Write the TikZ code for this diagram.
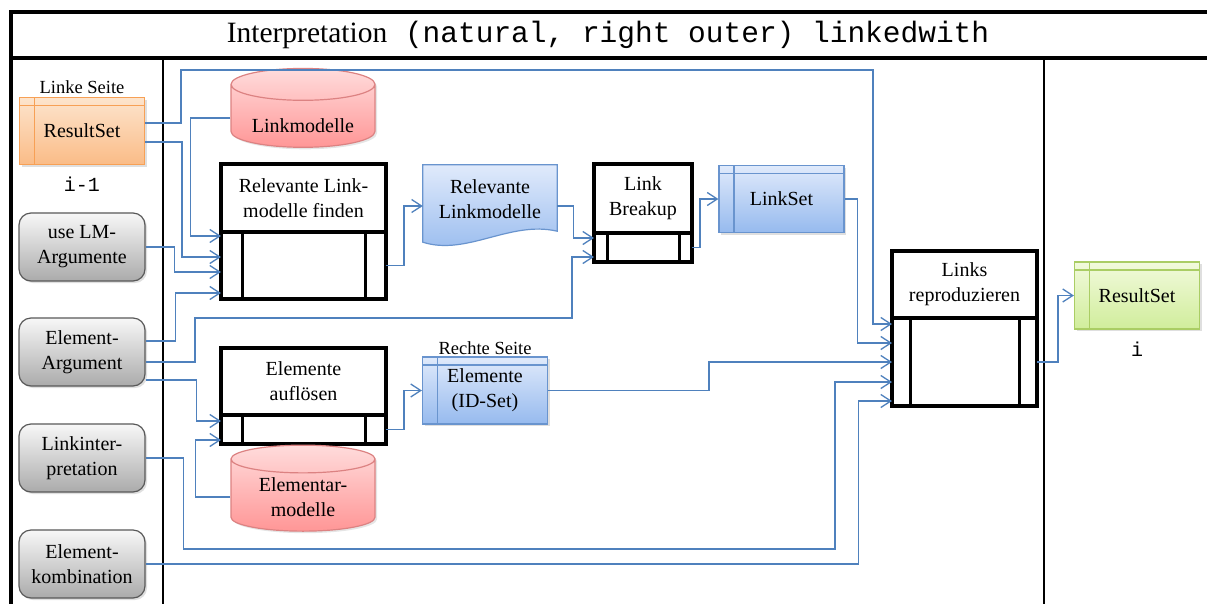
\documentclass[tikz,border=0pt]{standalone}
\usepackage{fontspec}
\setmainfont{Liberation Serif}
\setmonofont{Liberation Mono}
\usetikzlibrary{positioning,arrows.meta,shapes.geometric,shadows,backgrounds}

\definecolor{linkblue}{RGB}{79,129,189}
\definecolor{setblue}{RGB}{105,148,206}
\definecolor{bluetop}{RGB}{224,234,251}
\definecolor{bluebot}{RGB}{150,186,238}
\definecolor{orangeline}{RGB}{247,160,85}
\definecolor{orangetop}{RGB}{253,228,205}
\definecolor{orangebot}{RGB}{250,188,135}
\definecolor{greenline}{RGB}{170,205,100}
\definecolor{greentop}{RGB}{242,250,220}
\definecolor{greenbot}{RGB}{208,237,155}
\definecolor{redline}{RGB}{220,130,130}
\definecolor{redtop}{RGB}{255,220,220}
\definecolor{redbot}{RGB}{255,150,150}

\begin{document}
\begin{tikzpicture}[
  x=1pt, y=-1pt,
  font=\fontsize{20}{25}\selectfont,
  conn/.style={-{Straight Barb[length=10pt,width=13pt]}, line width=1.3pt, linkblue},
  frame/.style={line width=3.5pt, black},
  setbox/.style n args={3}{draw=#1, top color=#2, bottom color=#3, line width=1.2pt,
    minimum width=125pt, minimum height=67pt, align=center, inner sep=2pt,
    drop shadow={shadow xshift=2pt, shadow yshift=-2pt, opacity=0.25},
    path picture={
      \draw[#1, line width=1.2pt] ([xshift=15pt]path picture bounding box.north west)
        -- ([xshift=15pt]path picture bounding box.south west);
      \draw[#1, line width=1.2pt] ([yshift=-8pt]path picture bounding box.north west)
        -- ([yshift=-8pt]path picture bounding box.north east);}},
  blueset/.style={setbox={setblue}{bluetop}{bluebot}},
  argbox/.style={draw=black!65, rounded corners=12pt, top color=black!3,
    bottom color=black!33, line width=1.2pt, minimum width=126pt,
    minimum height=68pt, align=center, inner sep=2pt,
    drop shadow={shadow xshift=2pt, shadow yshift=-2pt, opacity=0.25}},
  dbase/.style={cylinder, shape border rotate=90, aspect=0.3, draw=redline,
    top color=redtop, bottom color=redbot, line width=1.2pt,
    minimum width=144pt, align=center, inner sep=2pt,
    execute at begin node={\rule{0pt}{30pt}},
    drop shadow={shadow xshift=2pt, shadow yshift=-2pt, opacity=0.2}},
  prochead/.style={draw, line width=3.5pt, outer sep=0pt, fill=white,
    align=center, inner sep=2pt},
  procbody/.style={draw, line width=3.5pt, outer sep=0pt, fill=white,
    path picture={
      \draw[line width=3pt] ([xshift=#1]path picture bounding box.north west)
        -- ([xshift=#1]path picture bounding box.south west);
      \draw[line width=3pt] ([xshift=-#1]path picture bounding box.north east)
        -- ([xshift=-#1]path picture bounding box.south east);}},
  docnode/.style={minimum width=134pt, minimum height=68pt, align=center, inner sep=2pt},
  lbl/.style={font=\fontsize{18.5}{22}\selectfont, inner sep=0pt},
  idx/.style={font=\ttfamily\fontsize{20}{24}\selectfont, inner sep=0pt},
]
\useasboundingbox (0,0) rectangle (1207,603);
\clip (0,0) rectangle (1207,603);

% frame with title row and three columns
\draw[frame] (11,12) rectangle (1240,640);
\draw[frame] (11,58) -- (1240,58);
\draw[line width=2.5pt] (163,58) -- (163,640);
\draw[line width=2.5pt] (1044,58) -- (1044,640);
\node[font=\fontsize{29.5}{34}\selectfont] (title) at (608,35)
  {Interpretation\texttt{ (natural, right outer) linkedwith}};

% inputs (left column)
\node[setbox={orangeline}{orangetop}{orangebot}] (rsL) at (82,131) {ResultSet};
\node[lbl, above=3pt of rsL] (lsL) {Linke Seite};
\node[idx, below=12pt of rsL] (iL) {i-1};
\node[argbox] (lm) at (82,247) {use LM-\\Argumente};
\node[argbox] (ea) at (82,352) {Element-\\Argument};
\node[argbox] (li) at (82,458) {Linkinter-\\pretation};
\node[argbox] (ek) at (82,564) {Element-\\kombination};

% models and processing steps
\node[dbase, minimum height=77pt] (lmod) at (303,118) {Linkmodelle};
\node[prochead, minimum width=165pt, minimum height=68pt] (find) at (303.5,198)
  {Relevante Link-\\modelle finden};
\node[procbody=21pt, minimum width=165pt, minimum height=67pt, below=0pt of find] (findb) {};
\node[docnode] (rlm) at (490,199) {Relevante\\Linkmodelle};
\node[prochead, minimum width=98pt, minimum height=69pt] (brk) at (643,198.5) {Link\\Breakup};
\node[procbody=13pt, minimum width=98pt, minimum height=29pt, below=0pt of brk] (brkb) {};
\node[blueset] (ls) at (781.5,199) {LinkSet};
\node[prochead, minimum width=165pt, minimum height=67pt] (auf) at (303.5,381.5)
  {Elemente\\auflösen};
\node[procbody=21pt, minimum width=165pt, minimum height=29pt, below=0pt of auf] (aufb) {};
\node[dbase, minimum height=86pt] (emod) at (303,497) {Elementar-\\modelle};
\node[blueset] (elem) at (485,390.5) {Elemente\\(ID-Set)};
\node[lbl, above=2pt of elem] (rsLab) {Rechte Seite};
\node[prochead, minimum width=145pt, minimum height=67pt] (rep) at (964.5,284.5)
  {Links\\reproduzieren};
\node[procbody=18pt, minimum width=145pt, minimum height=88pt, below=0pt of rep] (repb) {};

% output (right column)
\node[setbox={greenline}{greentop}{greenbot}] (rsR) at (1137,295.5) {ResultSet};
\node[idx, below=12pt of rsR] (iR) {i};

% document shape behind its text
\begin{scope}[on background layer]
  \fill[white] (0,0) rectangle (1207,603);
  \shade[top color=bluetop, bottom color=bluebot, draw=setblue, line width=1.2pt]
    (rlm.north west) -- (rlm.north east) -- ([yshift=2pt]rlm.south east)
    .. controls +(-47,-11) and +(44,14) .. ([yshift=-9pt]rlm.south west) -- cycle;
\end{scope}

% connections
\draw[conn] ([yshift=8pt]rsL.east) -| (181,70) -- (873,70) |- ([yshift=38pt]repb.west);
\draw[conn] ([yshift=-11pt]rsL.east) -- ++(37,0) |- ([yshift=8.5pt]findb.west);
\draw[conn] (lmod.west) -- ++(-40,0) |- ([yshift=29.5pt]findb.west);
\draw[conn] (lm.east) -- ++(29,0) |- ([yshift=-6.5pt]findb.west);
\draw[conn] ([yshift=11pt]ea.east) -- ++(30,0) |- ([yshift=-27.5pt]findb.west);
\draw[conn] ([yshift=-10pt]ea.east) -| (195,318) -- (572,318) |- ([yshift=-9.5pt]brkb.west);
\draw[conn] ([yshift=-28pt]ea.east) -- ++(51,0) |- ([yshift=8.5pt]aufb.west);
\draw[conn] (emod.west) -- ++(-35,0) |- ([yshift=-10.5pt]aufb.west);
\draw[conn] (findb.east) -- ++(18,0) |- ([yshift=-7pt]rlm.west);
\draw[conn] ([yshift=-7pt]rlm.east) -- ++(16,0) |- ([yshift=9.5pt]brkb.west);
\draw[conn] (brkb.east) -- ++(8,0) |- (ls.west);
\draw[conn] (ls.east) -- ++(13,0) |- ([yshift=19pt]repb.west);
\draw[conn] (aufb.east) -- ++(18,0) |- (elem.west);
\draw[conn] (elem.east) -- ++(161,0) |- (repb.west);
\draw[conn] (li.east) -- ++(38,0) |- (835,549) |- ([yshift=-20pt]repb.west);
\draw[conn] (ek.east) -- ++(713,0) |- ([yshift=-39pt]repb.west);
\draw[conn] (repb.east) -- ++(21,0) |- (rsR.west);
\end{tikzpicture}
\end{document}
